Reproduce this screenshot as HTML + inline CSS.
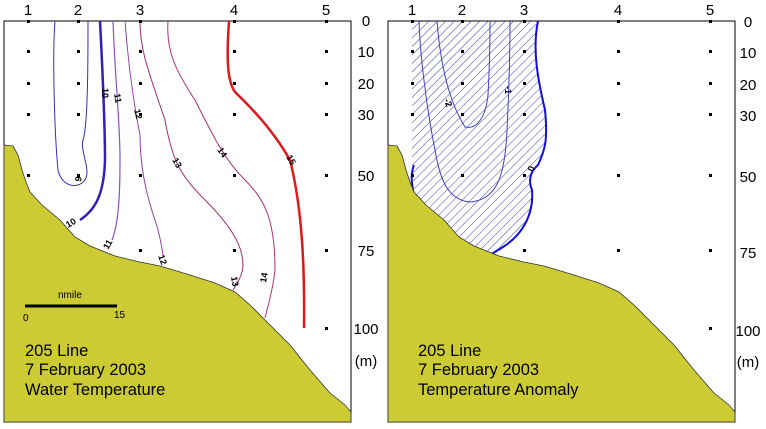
<!DOCTYPE html>
<html><head><meta charset="utf-8"><style>
html,body{margin:0;padding:0;background:#fff;}
svg{display:block;font-family:"Liberation Sans",Arial,sans-serif;}
</style></head><body>
<svg width="766" height="429" viewBox="0 0 766 429" xmlns="http://www.w3.org/2000/svg">
<defs>
<pattern id="h" patternUnits="userSpaceOnUse" width="6" height="6" patternTransform="rotate(45)">
<line x1="0" y1="0" x2="0" y2="6" stroke="#4040b0" stroke-width="1"/>
</pattern>
<g id="terrain">
<path d="M4,145 L13,146 L18,155 L22,170 L26,182 L30,192 L42,205 L60,220 L75,237 L90,246 L115,256 L140,262 L160,266 L190,275 L215,283 L235,292 L250,305 L265,320 L290,345 L310,370 L330,393 L345,405 L351,412 L351,422 L4,422 Z" fill="#cccb33" stroke="#333" stroke-width="0.8"/>
</g>
<g id="dots" fill="#000">
<rect x="27" y="20" width="3" height="3"/><rect x="77" y="20" width="3" height="3"/><rect x="139" y="20" width="3" height="3"/><rect x="233" y="20" width="3" height="3"/><rect x="325" y="20" width="3" height="3"/>
<rect x="27" y="50" width="3" height="3"/><rect x="77" y="50" width="3" height="3"/><rect x="139" y="50" width="3" height="3"/><rect x="233" y="50" width="3" height="3"/><rect x="325" y="50" width="3" height="3"/>
<rect x="27" y="82" width="3" height="3"/><rect x="77" y="82" width="3" height="3"/><rect x="139" y="82" width="3" height="3"/><rect x="233" y="82" width="3" height="3"/><rect x="325" y="82" width="3" height="3"/>
<rect x="27" y="113" width="3" height="3"/><rect x="77" y="113" width="3" height="3"/><rect x="139" y="113" width="3" height="3"/><rect x="233" y="113" width="3" height="3"/><rect x="325" y="113" width="3" height="3"/>
<rect x="27" y="174" width="3" height="3"/><rect x="77" y="174" width="3" height="3"/><rect x="139" y="174" width="3" height="3"/><rect x="233" y="174" width="3" height="3"/><rect x="325" y="174" width="3" height="3"/>
<rect x="139" y="249" width="3" height="3"/><rect x="233" y="249" width="3" height="3"/><rect x="325" y="249" width="3" height="3"/>
<rect x="325" y="327" width="3" height="3"/>
</g>
<g id="labels" font-size="15" fill="#000">
<text x="28" y="15" text-anchor="middle">1</text><text x="78" y="15" text-anchor="middle">2</text><text x="140" y="15" text-anchor="middle">3</text><text x="234" y="15" text-anchor="middle">4</text><text x="326" y="15" text-anchor="middle">5</text>
<text x="366" y="26" text-anchor="middle">0</text>
<text x="366" y="57" text-anchor="middle">10</text>
<text x="366" y="89" text-anchor="middle">20</text>
<text x="366" y="120" text-anchor="middle">30</text>
<text x="366" y="181" text-anchor="middle">50</text>
<text x="366" y="256" text-anchor="middle">75</text>
<text x="366" y="334" text-anchor="middle">100</text>
<text x="366" y="366" text-anchor="middle">(m)</text>
</g>
</defs>

<rect x="4" y="21" width="347" height="401" fill="#fff" stroke="#000" stroke-width="1"/>
<g fill="none">
<path d="M55,21 C52,60 55,140 58,170 C62,188 80,190 86,178 C90,168 80,150 83,140 C88,125 88,60 88,21" stroke="#3030c0" stroke-width="1"/>
<path d="M100,21 C102,60 105,120 105,160 C104,195 95,210 80,220" stroke="#3020b8" stroke-width="2.5"/>
<path d="M113,21 C115,80 120,120 120,160 C120,200 118,225 112,240" stroke="#8a50c8" stroke-width="1.2"/>
<path d="M125,21 C128,60 133,100 140,135 C140,170 148,200 155,220 C160,235 162,248 163,255" stroke="#9040a0" stroke-width="1"/>
<path d="M140,21 C140,50 148,70 165,120 C172,160 180,175 205,200 C230,225 243,245 243,265 C243,275 236,285 233,290" stroke="#a03070" stroke-width="1"/>
<path d="M168,21 C166,50 175,70 195,100 C215,140 225,160 245,180 C265,200 275,220 275,270 C273,290 268,305 265,318" stroke="#b03070" stroke-width="1"/>
<path d="M229,21 C227,50 226,80 235,92 C245,102 270,125 290,160 C300,200 305,250 304,328" stroke="#e01818" stroke-width="2.5"/>
</g>
<use href="#terrain"/>
<g font-size="9" font-weight="bold" fill="#000">
<text x="102" y="88" transform="rotate(90 102 88)">10</text>
<text x="114" y="94" transform="rotate(80 114 94)">11</text>
<text x="134" y="110" transform="rotate(75 134 110)">12</text>
<text x="172" y="160" transform="rotate(60 172 160)">13</text>
<text x="217" y="150" transform="rotate(55 217 150)">14</text>
<text x="286" y="157" transform="rotate(60 286 157)">15</text>
<text x="81" y="182" transform="rotate(-80 81 182)">9</text>
<text x="68" y="228" transform="rotate(-30 68 228)">10</text>
<text x="108" y="250" transform="rotate(-60 108 250)">11</text>
<text x="158" y="256" transform="rotate(70 158 256)">12</text>
<text x="231" y="277" transform="rotate(80 231 277)">13</text>
<text x="266" y="283" transform="rotate(-80 266 283)">14</text>
</g>
<use href="#dots"/>
<use href="#labels"/>
<line x1="25" y1="306" x2="117" y2="306" stroke="#000" stroke-width="3"/>
<text x="58" y="298" font-size="10">nmile</text>
<text x="23" y="321" font-size="10">0</text>
<text x="114" y="318" font-size="10">15</text>
<g font-size="16.5" fill="#000">
<text x="25" y="356">205 Line</text>
<text x="25" y="375">7 February 2003</text>
<text x="25" y="395">Water Temperature</text>
</g>

<rect x="388" y="21" width="347" height="401" fill="#fff" stroke="#000" stroke-width="1"/>
<path d="M412,21 L538,21 C532,50 538,80 545,110 C548,140 545,150 538,165 C530,172 528,180 532,190 C534,215 522,235 503,247 L490,255 L470,248 L450,235 L430,215 L414,195 L412,165 Z" fill="url(#h)"/>
<g fill="none">
<path d="M538,21 C532,50 538,80 545,110 C548,140 545,150 538,165 C530,172 528,180 532,190 C534,215 522,235 503,247 L490,255" stroke="#1010e0" stroke-width="2"/>
<path d="M414,165 C410,175 412,185 414,195" stroke="#1010e0" stroke-width="2"/>
<path d="M419,21 C420,50 425,100 435,150 C440,180 448,200 470,202 C495,200 505,180 507,130 C509,90 510,50 510,21" stroke="#4040c0" stroke-width="1"/>
<path d="M437,21 C440,60 448,100 465,127 C478,130 486,115 488,95 C490,60 490,40 490,21" stroke="#4040c0" stroke-width="1"/>
</g>
<g transform="translate(384,0)"><use href="#terrain"/><use href="#dots"/></g>
<g font-size="15" fill="#000">
<text x="412" y="15" text-anchor="middle">1</text><text x="462" y="15" text-anchor="middle">2</text><text x="524" y="15" text-anchor="middle">3</text><text x="618" y="15" text-anchor="middle">4</text><text x="710" y="15" text-anchor="middle">5</text>
<g text-anchor="middle">
<text x="748" y="27">0</text><text x="748" y="58">10</text><text x="748" y="90">20</text><text x="748" y="121">30</text><text x="748" y="182">50</text><text x="748" y="258">75</text><text x="748" y="336">100</text><text x="748" y="367">(m)</text>
</g>
</g>
<g font-size="9" font-weight="bold">
<text x="533" y="172" transform="rotate(-70 533 172)">0</text>
<text x="505" y="86" transform="rotate(90 505 86)">-1</text>
<text x="444" y="100" transform="rotate(70 444 100)">-2</text>
</g>
<g font-size="16.5" fill="#000">
<text x="418" y="356">205 Line</text>
<text x="418" y="375">7 February 2003</text>
<text x="418" y="395">Temperature Anomaly</text>
</g>
</svg>
</body></html>
